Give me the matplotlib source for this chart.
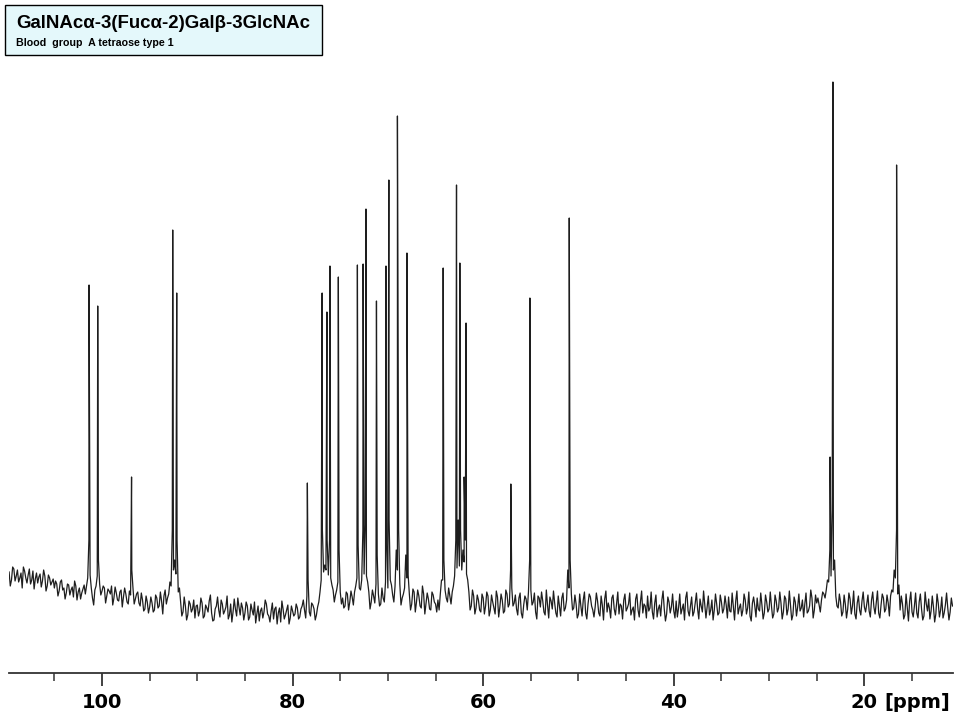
import numpy as np
import matplotlib
matplotlib.use("Agg")
import matplotlib.pyplot as plt
from matplotlib.patches import Rectangle

# Textes
titre = "GalNAcα-3(Fucα-2)Galβ-3GlcNAc"
sous_titre = "Blood  group  A tetraose type 1"

# Pics : déplacement chimique (ppm) et intensité (unités arbitraires)
pics_ppm = [101.36, 100.45, 96.9, 92.58, 92.16,
            78.45, 76.9, 76.4, 76.08, 75.2,
            73.2, 72.6, 72.3, 71.2, 70.2, 69.9, 69.0, 68.0,
            64.2, 62.8, 62.45, 62.0, 61.8,
            57.1, 55.1, 50.97,
            23.6, 23.3, 16.62]
pics_int = [315, 294, 123, 370, 307,
            117, 307, 288, 334, 323,
            335, 336, 391, 299, 334, 420, 484, 347,
            332, 415, 337, 123, 277,
            116, 302, 382,
            143, 518, 435]

# Ligne de base (bruit lu sur le spectre), pas de 0.25 ppm de 109.75 à 10.75 ppm
ligne_base = [
    28, 20, 31, 24, 18, 27, 33, 22, 25, 16, 29, 21, 17, 26, 19, 24, 14, 22, 18, 12,
    16, 9, 20, 12, 7, 15, 10, 3, 14, 8, 1, 11, 6, 22, 25, 2, 10, 24, 16, 9,
    12, 4, 9, 14, 2, 7, -1, 10, 3, 6, -4, 5, 12, 1, 8, -6, 0, -9, -2, -7,
    -3, -10, 2, -6, -1, 4, -4, 6, 14, 30, 26, 8, -2, -12, -6, -15, -4, -9, -18, -5,
    -11, -3, -16, -8, -1, -13, -20, -6, -10, 0, -14, -7, -19, -4, -12, -9, 2, -15, -8, -13,
    -6, -17, -10, -2, -14, -21, -8, -12, -4, -16, -11, -19, -7, -13, -22, -9, -15, -5, -18, -11,
    -14, -8, -17, -6, -10, 4, -12, -3, -9, -15, -2, 20, 28, 30, 25, 22, 10, 5, 18, 8,
    2, -6, 6, -2, 3, 8, 22, 12, 20, 26, 24, 8, -2, 4, 16, 6, -4, 2, 18, 12,
    20, 5, 14, 30, 16, 2, 12, 22, 6, -4, 8, -2, 4, -8, 6, -3, 1, -10, 5, -4,
    0, 6, 20, 10, -2, 4, 8, 24, 32, 34, 30, 38, 26, 8, -6, 4, -8, 0, -12, 2,
    -6, 4, -10, -2, -14, 3, -7, 0, -11, 6, -4, 12, -3, -9, 2, -13, -5, 1, 8, 10,
    -2, -12, 4, -7, -1, -15, -5, 3, -9, -3, -17, -6, 2, -11, 0, 12, 6, -8, -4, -14,
    -6, 0, -13, -4, 3, -10, -7, -1, -16, -5, 1, -12, -8, 2, -9, -3, -14, -6, 0, -11,
    -4, -15, -7, 1, -10, -2, -13, -6, 4, -8, -12, -3, -17, -5, 0, -9, -14, -2, -7, -11,
    -1, -8, -14, -4, 2, -11, -6, -16, -3, -9, 1, -12, -5, -7, -15, 0, -10, -4, -13, -2,
    -9, -5, 3, -12, -7, -1, -14, -4, -10, 0, -8, -16, -3, -6, 2, -11, -5, -13, -2, -9,
    -6, -14, -1, -8, -3, -12, 1, -9, -5, -15, -2, -7, -11, 0, -4, -13, -6, 2, -10, -3,
    -5, 0, 6, 10, 18, 24, 30, 4, -8, -2, -12, -4, -9, 1, -6, -14, -3, -10, -1, -7,
    -4, -11, 0, -7, -2, -13, -5, 2, -9, -3, 4, 8, 22, 6, -10, -4, -15, -7, -1, -12,
    -6, -13, -2, -9, -16, -4, 1, -11, -7, -14, -3, -10, -18, -5, -8, -12, -6,
]

# Points intermédiaires de la ligne de base, de 109.625 à 10.875 ppm
ligne_base_mi = [
    14, 33, 19, 30, 22, 12, 29, 17, 31, 20, 11, 27, 23, 13, 30, 9, 25, 15, 21, 19,
    4, 18, 10, 1, 16, 5, 13, 19, 0, 12, 7, 15, 14, 60, 12, -5, 14, 40, 5, 14,
    -3, 11, 6, -5, 13, 0, 8, -7, 12, -2, 9, 30, -4, 6, -3, 7, -11, 4, -13, 3,
    -12, 5, -8, 8, -14, 10, 2, 18, 70, 40, 60, 12, -16, 3, -20, -1, -12, 0, -6, -16,
    2, -18, -5, -12, 5, -21, -9, 3, -17, -4, -11, 4, -15, -22, 1, -16, -7, -3, -20, -2,
    -20, -4, -15, -23, -6, -11, -18, 0, -14, -22, -3, -9, -24, -8, -1, -19, -10, -24, -6, -16,
    -4, -19, -9, 0, -18, 20, -16, -5, -20, -7, 8, 70, 35, 60, 60, 15, -2, 10, 50, -4,
    -8, 8, -10, 9, -5, 14, 55, 10, 70, 75, 18, -9, 10, -3, 45, -6, 12, -2, 55, 80,
    15, -2, 50, 70, -5, 6, 45, 25, -10, 11, -12, 10, -6, 14, -14, 7, -9, 8, -2, -12,
    -10, 20, 40, 2, 12, -4, 14, 60, 80, 70, 50, 60, 20, -10, 10, -14, 5, -10, 6, -14,
    8, -16, 5, -8, 9, -17, 6, -13, 10, -7, 30, -6, 5, -15, 7, -18, 4, -10, 40, -5,
    7, -19, 2, 8, -12, 10, -18, -1, 9, -13, 4, -16, 7, -8, 30, 40, -10, 5, -18, 6,
    -16, 8, -19, 6, -6, -17, 7, -13, 4, -20, 9, -3, -18, 5, -15, 8, -4, -19, 6, -8,
    7, -10, -20, 6, -17, 9, -4, -18, -11, 8, -19, 5, -9, -16, 9, -21, 3, -13, 6, -18,
    -17, 6, -9, -20, 8, -16, 3, -12, 7, -19, -6, 9, -18, 4, -10, -20, 6, -15, 5, -13,
    4, -18, -11, 7, -20, 9, -8, -16, 6, -14, 8, -21, 3, -17, -9, 7, -19, 5, -12, 8,
    -18, 5, -12, 8, -19, 4, -15, 9, -20, 3, -16, 6, -8, -17, 7, -11, 10, -18, 5, 2,
    -12, 8, 2, 20, 50, 90, 40, -6, 6, -16, 5, -18, 7, -14, 9, -19, 4, -15, 8, -12,
    5, -17, 8, -14, 9, -18, 6, -12, 5, -16, 10, 30, 70, 15, 4, -19, 6, -21, 8, -17,
    7, -18, 6, -20, 8, -11, -19, 4, -22, 6, -17, 3, -13, 7, -20, 2,
]

graduations = [100, 80, 60, 40, 20]

base_ppm = np.linspace(109.75, 10.75, len(ligne_base))
mi_ppm = np.linspace(109.625, 10.875, len(ligne_base_mi))
x = np.concatenate([base_ppm, mi_ppm, pics_ppm])
y = np.concatenate([ligne_base, ligne_base_mi, pics_int])
ordre = np.argsort(-x, kind="stable")

fig = plt.figure(figsize=(9.6, 7.2), dpi=100)
ax = fig.add_axes([9 / 960, 47 / 720, 944 / 960, 673 / 720])
ax.plot(x[ordre], y[ordre], color="#1e1e1e", lw=0.9)

ax.set_xlim(109.76, 10.7)
ax.set_ylim(-73, 600)
for s in ["left", "right", "top"]:
    ax.spines[s].set_visible(False)
ax.spines["bottom"].set_color("#333333")
ax.spines["bottom"].set_linewidth(1.3)
ax.set_yticks([])
ax.set_xticks(graduations)
ax.set_xticks(np.arange(15, 110, 5), minor=True)
ax.set_xticklabels([str(g) for g in graduations])
ax.tick_params(axis="x", which="major", length=9.4, width=1.3, color="#333333",
               pad=5, labelsize=14)
ax.tick_params(axis="x", which="minor", length=5.8, width=1.1, color="#333333")
for lbl in ax.get_xticklabels():
    lbl.set_fontweight("bold")
    lbl.set_family("DejaVu Sans")
ax.annotate("[ppm]", xy=(17.94, 0), xycoords=("data", "axes fraction"),
            xytext=(0, -14.4), textcoords="offset points", ha="left", va="top",
            fontsize=14, fontweight="bold", family="DejaVu Sans")

# Cadre du titre
fig.patches.append(Rectangle((5 / 960, 665 / 720), 317 / 960, 50 / 720,
                             transform=fig.transFigure, facecolor="#e4f8fb",
                             edgecolor="black", lw=1.0))
fig.text(16 / 960, 1 - 28 / 720, titre, fontsize=13.4, fontweight="bold",
         family=["Liberation Sans", "DejaVu Sans"], va="baseline", ha="left")
fig.text(16 / 960, 1 - 46 / 720, sous_titre, fontsize=7.7, fontweight="bold",
         family=["Liberation Sans", "DejaVu Sans"], va="baseline", ha="left")

fig.savefig("out.png", dpi=100)
